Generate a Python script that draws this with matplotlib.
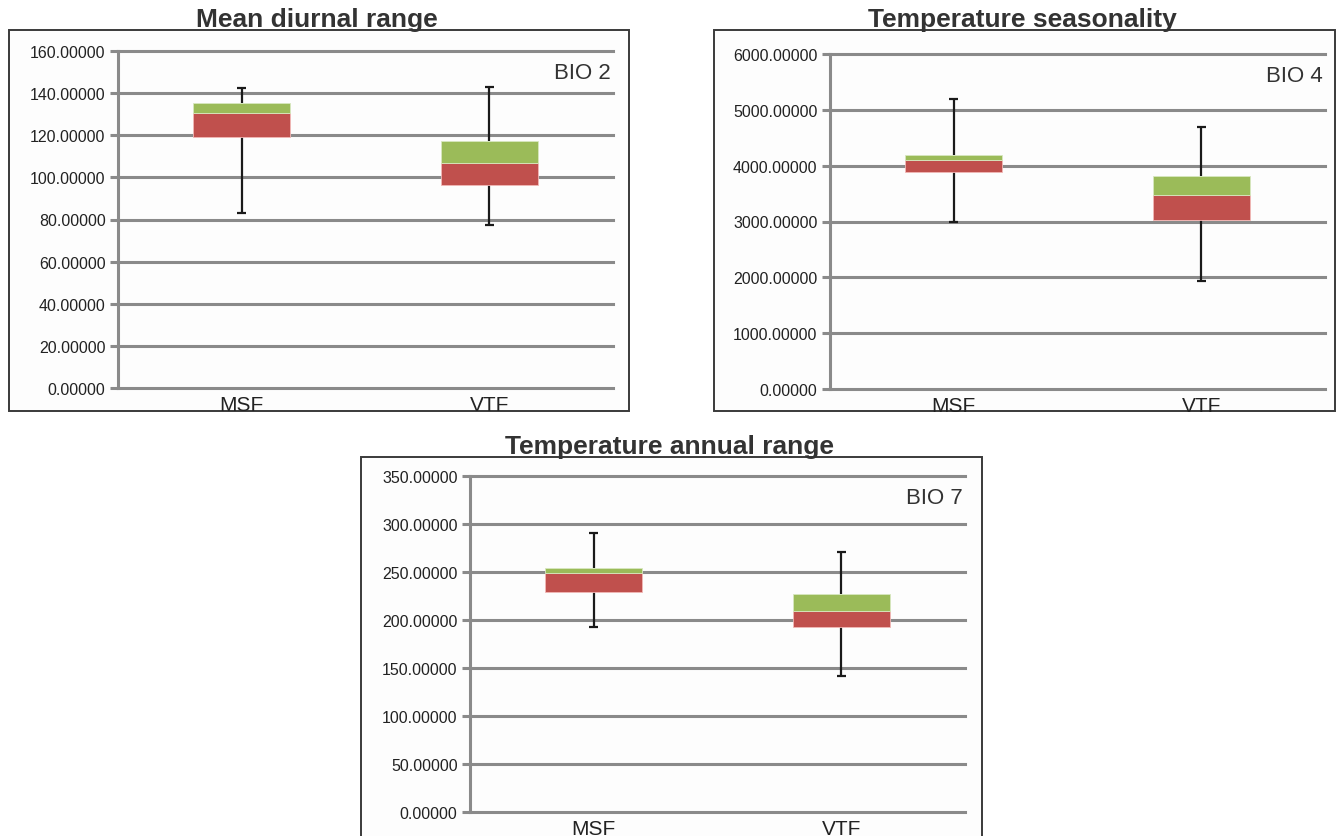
import matplotlib
matplotlib.use("Agg")
import matplotlib.pyplot as plt
from matplotlib.patches import Rectangle
from matplotlib.ticker import FormatStrFormatter

categories = ["MSF", "VTF"]

titles = ["Mean diurnal range", "Temperature seasonality", "Temperature annual range"]
bio_labels = ["BIO 2", "BIO 4", "BIO 7"]

# per panel: whisker min, Q1, median, Q3, whisker max  (for MSF, VTF)
bio2_min = [83.0, 77.5]
bio2_q1 = [119.0, 96.5]
bio2_med = [130.5, 107.0]
bio2_q3 = [135.5, 117.5]
bio2_max = [142.5, 143.0]

bio4_min = [3000.0, 1940.0]
bio4_q1 = [3890.0, 3030.0]
bio4_med = [4100.0, 3470.0]
bio4_q3 = [4200.0, 3820.0]
bio4_max = [5190.0, 4700.0]

bio7_min = [193.0, 141.5]
bio7_q1 = [229.0, 193.0]
bio7_med = [249.0, 209.5]
bio7_q3 = [254.5, 227.5]
bio7_max = [291.0, 270.5]

y_max = [160, 6000, 350]
y_step = [20, 1000, 50]

data = [
    (bio2_min, bio2_q1, bio2_med, bio2_q3, bio2_max),
    (bio4_min, bio4_q1, bio4_med, bio4_q3, bio4_max),
    (bio7_min, bio7_q1, bio7_med, bio7_q3, bio7_max),
]

W, H = 1336, 837
fig = plt.figure(figsize=(W / 100, H / 100), dpi=100)
fig.patch.set_facecolor("white")

# pixel layout: (axes left, right, top, bottom), frame (x0, x1, y0, y1)
axes_px = [(118, 613, 52, 389), (830, 1325, 55, 390), (470, 965, 477, 813)]
frames_px = [(9, 629, 31, 412), (714, 1335, 31, 412), (361, 982, 458, 840)]

RED = "#c0504d"
GREEN = "#9bbb59"
GRID = "#8a8a8a"

for i in range(3):
    l, r, t, b = axes_px[i]
    fx0, fx1, fy0, fy1 = frames_px[i]
    fig.patches.append(Rectangle((fx0 / W, 1 - fy1 / H), (fx1 - fx0) / W, (fy1 - fy0) / H,
                                 transform=fig.transFigure, facecolor="#fdfdfd",
                                 edgecolor="#3a3a3a", linewidth=1.4, zorder=-5))
    ax = fig.add_axes([l / W, 1 - b / H, (r - l) / W, (b - t) / H], zorder=2)
    ax.set_facecolor("none")
    mn, q1, med, q3, mx = data[i]
    x = list(range(len(categories)))
    ax.bar(x, [m - a for a, m in zip(q1, med)], bottom=q1, width=0.39, color=RED,
           edgecolor="#f2b8b6", linewidth=0.6, zorder=3)
    ax.bar(x, [c - m for m, c in zip(med, q3)], bottom=med, width=0.39, color=GREEN,
           edgecolor="#d8e8c0", linewidth=0.6, zorder=3)
    for xi in x:
        ax.plot([xi, xi], [mn[xi], q1[xi]], color="#1a1a1a", lw=1.6, zorder=2,
                solid_capstyle="butt")
        ax.plot([xi, xi], [q3[xi], mx[xi]], color="#1a1a1a", lw=1.6, zorder=2,
                solid_capstyle="butt")
        for v in (mn[xi], mx[xi]):
            ax.plot([xi - 0.018, xi + 0.018], [v, v], color="#1a1a1a", lw=1.6, zorder=2,
                    solid_capstyle="butt")
    ax.set_xlim(-0.5, 1.5)
    ax.set_ylim(0, y_max[i])
    ax.set_yticks(range(0, y_max[i] + 1, y_step[i]))
    ax.yaxis.set_major_formatter(FormatStrFormatter("%.5f"))
    ax.yaxis.grid(True, color=GRID, linewidth=2.2, zorder=1)
    for gl in ax.get_ygridlines():
        gl.set_clip_on(False)
    ax.set_axisbelow(True)
    for s in ("top", "right", "bottom"):
        ax.spines[s].set_visible(False)
    ax.spines["left"].set_color(GRID)
    ax.spines["left"].set_linewidth(2.2)
    ax.tick_params(axis="y", length=6, width=2.2, color=GRID, labelsize=11.5,
                   labelcolor="#222222", pad=3)
    for lab in ax.get_yticklabels():
        lab.set_fontfamily("Liberation Sans")
    ax.set_xticks(x)
    ax.set_xticklabels(categories, fontsize=15, color="#222222", fontfamily="Liberation Sans")
    ax.tick_params(axis="x", length=0, pad=5)
    ax.text(0.995, 0.935, bio_labels[i], transform=ax.transAxes, ha="right", va="center",
            fontsize=16, color="#333333", fontfamily="Liberation Sans")
    fig.text(((fx0 + fx1) / 2 - 2) / W, 1 - (fy0 - 11) / H, titles[i], ha="center", va="center",
             fontsize=19, fontweight="bold", color="#333333", fontfamily="Liberation Sans",
             zorder=5)

fig.savefig("out.png", dpi=100)
